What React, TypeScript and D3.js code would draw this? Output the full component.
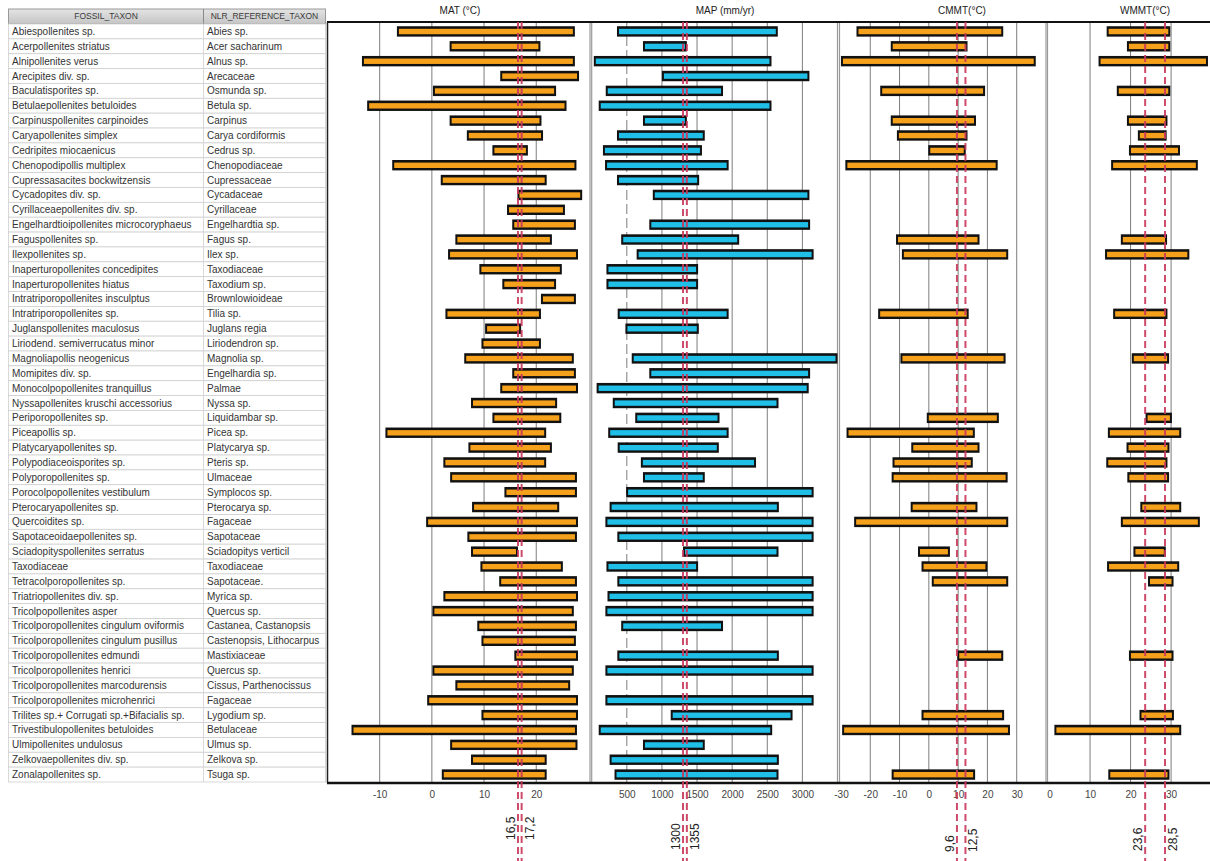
import * as d3 from "d3";
import React, { useEffect, useRef } from "react";

const fossilTaxa = [
  "Abiespollenites sp.", "Acerpollenites striatus", "Alnipollenites verus", "Arecipites div. sp.",
  "Baculatisporites sp.", "Betulaepollenites betuloides", "Carpinuspollenites carpinoides",
  "Caryapollenites simplex", "Cedripites miocaenicus", "Chenopodipollis multiplex",
  "Cupressasacites bockwitzensis", "Cycadopites div. sp.", "Cyrillaceaepollenites div. sp.",
  "Engelhardtioipollenites microcoryphaeus", "Faguspollenites sp.", "Ilexpollenites sp.",
  "Inaperturopollenites concedipites", "Inaperturopollenites hiatus", "Intratriporopollenites insculptus",
  "Intratriporopollenites sp.", "Juglanspollenites maculosus", "Liriodend. semiverrucatus minor",
  "Magnoliapollis neogenicus", "Momipites div. sp.", "Monocolpopollenites tranquillus",
  "Nyssapollenites kruschi accessorius", "Periporopollenites sp.", "Piceapollis sp.",
  "Platycaryapollenites sp.", "Polypodiaceoisporites sp.", "Polyporopollenites sp.",
  "Porocolpopollenites vestibulum", "Pterocaryapollenites sp.", "Quercoidites sp.",
  "Sapotaceoidaepollenites sp.", "Sciadopityspollenites serratus", "Taxodiaceae",
  "Tetracolporopollenites sp.", "Triatriopollenites div. sp.", "Tricolpopollenites asper",
  "Tricolporopollenites cingulum oviformis", "Tricolporopollenites cingulum pusillus",
  "Tricolporopollenites edmundi", "Tricolporopollenites henrici", "Tricolporopollenites marcodurensis",
  "Tricolporopollenites microhenrici", "Trilites sp.+ Corrugati sp.+Bifacialis sp.",
  "Trivestibulopollenites betuloides", "Ulmipollenites undulosus", "Zelkovaepollenites div. sp.",
  "Zonalapollenites sp.",
];

const referenceTaxa = [
  "Abies sp.", "Acer sacharinum", "Alnus sp.", "Arecaceae", "Osmunda sp.", "Betula sp.", "Carpinus",
  "Carya cordiformis", "Cedrus sp.", "Chenopodiaceae", "Cupressaceae", "Cycadaceae", "Cyrillaceae",
  "Engelhardtia sp.", "Fagus sp.", "Ilex sp.", "Taxodiaceae", "Taxodium sp.", "Brownlowioideae",
  "Tilia sp.", "Juglans regia", "Liriodendron sp.", "Magnolia sp.", "Engelhardia sp.", "Palmae",
  "Nyssa sp.", "Liquidambar sp.", "Picea sp.", "Platycarya sp.", "Pteris sp.", "Ulmaceae",
  "Symplocos sp.", "Pterocarya sp.", "Fagaceae", "Sapotaceae", "Sciadopitys verticil", "Taxodiaceae",
  "Sapotaceae.", "Myrica sp.", "Quercus sp.", "Castanea, Castanopsis", "Castenopsis, Lithocarpus",
  "Mastixiaceae", "Quercus sp.", "Cissus, Parthenocissus", "Fagaceae", "Lygodium sp.", "Betulaceae",
  "Ulmus sp.", "Zelkova sp.", "Tsuga sp.",
];

// mean annual temperature range (°C)
const matMin = [
  -6.7, 3.4, -13.4, 13.1, 0.2, -12.4, 3.4, 6.7, 11.6, -7.6, 1.7, 16.4, 14.4, 15.4, 4.5, 3.1, 9.1,
  13.5, 20.9, 2.6, 10.2, 9.5, 6.2, 15.4, 13.1, 7.5, 11.6, -8.9, 7.0, 2.2, 3.5, 13.9, 7.7, -1.1, 6.8,
  7.5, 9.3, 12.9, 2.2, 0.1, 8.7, 9.5, 15.8, 0.1, 4.5, -0.9, 9.5, -15.4, 3.5, 7.5, 1.9,
];
const matMax = [
  27.4, 20.8, 27.4, 28.2, 23.8, 25.8, 21.0, 21.3, 18.4, 27.7, 22.0, 28.8, 25.5, 27.6, 23.0, 28.0, 24.9,
  23.8, 27.6, 20.9, 17.1, 20.9, 27.2, 27.6, 28.0, 24.0, 24.8, 21.9, 23.0, 21.9, 27.8, 27.8, 24.4, 28.0,
  27.8, 16.5, 25.1, 27.8, 28.0, 27.2, 27.8, 27.6, 28.0, 27.2, 26.5, 28.0, 28.0, 27.8, 27.9, 22.0, 22.0,
];

// mean annual precipitation range (mm/yr)
const mapMin = [
  360, 730, 30, 1000, 200, 100, 730, 360, 160, 190, 360, 870, null, 820, 420, 640, 210, 210, null,
  370, 480, null, 570, 820, 70, 300, 620, 235, 370, 700, 730, 490, 255, 195, 365, 1300, 210, 365,
  225, 195, 420, null, 365, 195, null, 195, 1125, 100, 730, 255, 325,
];
const mapMax = [
  2650, 1355, 2560, 3100, 1870, 2560, 1355, 1610, 1570, 1950, 1530, 3100, null, 3110, 2100, 3160,
  1515, 1515, null, 1950, 1525, null, 3500, 3110, 3090, 2660, 1820, 1950, 1810, 2340, 1610, 3160,
  2665, 3160, 3160, 2660, 1515, 3160, 3160, 3160, 1870, null, 2665, 3160, null, 3160, 2860, 2570,
  1610, 2665, 2660,
];

// coldest month mean temperature range (°C)
const cmmtMin = [
  -24.7, -13.0, -30.0, null, -16.6, null, -13.0, -10.9, -0.2, -28.5, null, null, null, null, -11.2,
  -9.2, null, null, null, -17.3, null, null, -9.7, null, null, null, -0.7, -28.1, -6.0, -12.4, -12.7,
  null, -6.2, -25.5, null, -3.7, -2.5, 1.0, null, null, null, null, 9.7, null, null, null, -2.5,
  -29.6, null, null, -12.7,
];
const cmmtMax = [
  25.4, 13.2, 36.5, null, 19.2, null, 16.1, 13.2, 12.6, 23.5, null, null, null, null, 17.3, 27.1,
  null, null, null, 13.6, null, null, 26.2, null, null, null, 23.9, 15.7, 17.3, 15.0, 26.9, null,
  16.6, 27.1, null, 7.2, 20.0, 27.1, null, null, null, null, 25.4, null, null, null, 25.7, 27.7,
  null, null, 15.8,
];

// warmest month mean temperature range (°C)
const wmmtMin = [
  14.1, 19.1, 12.1, null, 16.6, null, 19.1, 21.8, 19.6, 15.2, null, null, null, null, 17.6, 13.7,
  null, null, null, 15.7, null, null, 20.3, null, null, null, 23.7, 14.4, 19.0, 14.0, 19.2, null,
  22.4, 17.6, null, 20.7, 14.2, 24.3, null, null, null, null, 19.6, null, null, null, 22.2, 1.2,
  null, null, 14.5,
];
const wmmtMax = [
  29.8, 29.8, 39.1, null, 29.8, null, 29.1, 28.9, 32.2, 36.6, null, null, null, null, 29.0, 34.5,
  null, null, null, 29.1, null, null, 29.5, null, null, null, 30.2, 32.5, 29.6, 29.1, 29.5, null,
  32.5, 37.1, null, 28.7, 32.0, 30.6, null, null, null, null, 30.6, null, null, null, 30.7, 32.5,
  null, null, 29.6,
];

const matTicks = [-10, 0, 10, 20];
const mapTicks = [500, 1000, 1500, 2000, 2500, 3000];
const cmmtTicks = [-30, -20, -10, 0, 10, 20, 30];
const wmmtTicks = [0, 10, 20, 30];

const matRefs = [16.5, 17.2];
const mapRefs = [1300, 1355];
const cmmtRefs = [9.6, 12.5];
const wmmtRefs = [23.6, 28.5];

const matRefLabels = ["16,5", "17,2"];
const mapRefLabels = ["1300", "1355"];
const cmmtRefLabels = ["9,6", "12,5"];
const wmmtRefLabels = ["23,6", "28,5"];

const WIDTH = 1210;
const HEIGHT = 861;
const TOP = 22;
const BOTTOM = 783;
const ORANGE = "#F5A11C";
const CYAN = "#1FBFE8";
const REF = "#C9385C";
const FONT = "'Liberation Sans', Arial, sans-serif";

export default function App() {
  const ref = useRef<SVGSVGElement | null>(null);

  useEffect(() => {
    const svg = d3.select(ref.current);
    svg.selectAll("*").remove();
    svg.attr("width", WIDTH).attr("height", HEIGHT).attr("font-family", FONT);
    svg.append("rect").attr("width", WIDTH).attr("height", HEIGHT).attr("fill", "#fff");

    const rows = d3.range(fossilTaxa.length);
    const y = d3.scaleBand<number>().domain(rows).range([24, 782]);
    const bw = y.bandwidth();

    // ---- table ----
    const grad = svg.append("defs").append("linearGradient")
      .attr("id", "hdr").attr("x1", 0).attr("x2", 0).attr("y1", 0).attr("y2", 1);
    grad.append("stop").attr("offset", "0%").attr("stop-color", "#e4e4e4");
    grad.append("stop").attr("offset", "100%").attr("stop-color", "#c4c4c4");

    const table = svg.append("g");
    const colX = [8.5, 203.5, 325.5];
    table.append("rect").attr("x", colX[0]).attr("y", 9).attr("width", colX[2] - colX[0])
      .attr("height", 15).attr("fill", "url(#hdr)").attr("stroke", "#9a9a9a");
    table.append("line").attr("x1", colX[1]).attr("x2", colX[1]).attr("y1", 9).attr("y2", 24)
      .attr("stroke", "#8a8a8a");
    [["FOSSIL_TAXON", (colX[0] + colX[1]) / 2], ["NLR_REFERENCE_TAXON", (colX[1] + colX[2]) / 2]]
      .forEach(([t, cx]) => {
        table.append("text").attr("x", cx as number).attr("y", 16.5).attr("dy", "0.35em")
          .attr("text-anchor", "middle").attr("font-size", 8.5).attr("fill", "#3a3a3a").text(t as string);
      });

    const row = table.selectAll("g.row").data(rows).enter().append("g").attr("class", "row");
    row.append("rect").attr("x", colX[0]).attr("y", (i) => y(i)!).attr("width", colX[2] - colX[0])
      .attr("height", bw).attr("fill", "#fff").attr("stroke", "#cfcfcf").attr("stroke-width", 0.8);
    row.append("line").attr("x1", colX[1]).attr("x2", colX[1]).attr("y1", (i) => y(i)!)
      .attr("y2", (i) => y(i)! + bw).attr("stroke", "#cfcfcf").attr("stroke-width", 0.8);
    row.append("text").attr("x", 12).attr("y", (i) => y(i)! + bw / 2).attr("dy", "0.35em")
      .attr("font-size", 10).attr("fill", "#333").text((i) => fossilTaxa[i]);
    row.append("text").attr("x", 207).attr("y", (i) => y(i)! + bw / 2).attr("dy", "0.35em")
      .attr("font-size", 10).attr("fill", "#333").text((i) => referenceTaxa[i]);

    // ---- panels ----
    const panels = [
      { title: "MAT (\u00b0C)", titleX: 460, domain: [-20, 30.3], range: [327.5, 590], lo: matMin, hi: matMax,
        fill: ORANGE, ticks: matTicks, grid: matTicks, dashed: [] as number[], refs: matRefs, refLabels: matRefLabels, labelBottom: 840 },
      { title: "MAP (mm/yr)", titleX: 725, domain: [0, 3500], range: [591.7, 837.5], lo: mapMin, hi: mapMax,
        fill: CYAN, ticks: mapTicks, grid: mapTicks, dashed: [500], refs: mapRefs, refLabels: mapRefLabels, labelBottom: 850 },
      { title: "CMMT(\u00b0C)", titleX: 962, domain: [-30.5, 40], range: [839.5, 1046], lo: cmmtMin, hi: cmmtMax,
        fill: ORANGE, ticks: cmmtTicks, grid: [-20, -10, 0, 10, 20, 30], dashed: [], refs: cmmtRefs, refLabels: cmmtRefLabels, labelBottom: 852 },
      { title: "WMMT(\u00b0C)", titleX: 1145, domain: [-0.5, 39.6], range: [1047.5, 1210], lo: wmmtMin, hi: wmmtMax,
        fill: ORANGE, ticks: wmmtTicks, grid: [10, 20, 30], dashed: [], refs: wmmtRefs, refLabels: wmmtRefLabels, labelBottom: 851 },
    ];

    const refLayer: { x: number; label: string; side: number; bottom: number }[] = [];

    panels.forEach((p, pi) => {
      const x = d3.scaleLinear().domain(p.domain).range(p.range);
      const g = svg.append("g");

      // borders
      p.range.forEach((rx, k) => {
        if (pi === 3 && k === 1) return;
        g.append("line").attr("x1", rx).attr("x2", rx).attr("y1", TOP).attr("y2", BOTTOM)
          .attr("stroke", pi === 0 && k === 0 ? "#222" : "#9a9a9a")
          .attr("stroke-width", pi === 0 && k === 0 ? 1.5 : 1.2);
      });

      // grid
      g.selectAll("line.grid").data(p.grid).enter().append("line").attr("class", "grid")
        .attr("x1", (d) => x(d)).attr("x2", (d) => x(d)).attr("y1", TOP).attr("y2", BOTTOM)
        .attr("stroke", "#7d7d7d").attr("stroke-width", 1)
        .attr("stroke-dasharray", (d) => (p.dashed.includes(d) ? "10,4" : null));

      // bars
      const present = rows.filter((i) => p.lo[i] != null && p.hi[i] != null);
      const bar = g.selectAll("g.bar").data(present).enter().append("g").attr("class", "bar");
      bar.append("rect").attr("x", (i) => x(p.lo[i] as number))
        .attr("y", (i) => y(i)! + bw / 2 - 5.2)
        .attr("width", (i) => x(p.hi[i] as number) - x(p.lo[i] as number)).attr("height", 10.4)
        .attr("fill", "#111");
      bar.append("rect").attr("x", (i) => x(p.lo[i] as number) + 2)
        .attr("y", (i) => y(i)! + bw / 2 - 2.6)
        .attr("width", (i) => Math.max(0, x(p.hi[i] as number) - x(p.lo[i] as number) - 4)).attr("height", 5.4)
        .attr("fill", p.fill);

      // axis labels
      const axis = g.append("g").attr("transform", `translate(0,${BOTTOM})`)
        .call(d3.axisBottom(x).tickValues(p.ticks).tickSize(0).tickPadding(8).tickFormat((d) => String(d)));
      axis.select(".domain").remove();
      axis.selectAll("text").attr("font-size", 10).attr("fill", "#444").attr("font-family", FONT);

      // title
      g.append("text").attr("x", p.titleX).attr("y", 14).attr("text-anchor", "middle")
        .attr("font-size", 10).attr("fill", "#222").text(p.title);

      p.refs.forEach((r, k) => refLayer.push({ x: x(r), label: p.refLabels[k], side: k, bottom: p.labelBottom }));
    });

    // axis lines
    svg.append("line").attr("x1", 327).attr("x2", WIDTH).attr("y1", TOP).attr("y2", TOP)
      .attr("stroke", "#111").attr("stroke-width", 2);
    svg.append("line").attr("x1", 327).attr("x2", WIDTH).attr("y1", BOTTOM).attr("y2", BOTTOM)
      .attr("stroke", "#111").attr("stroke-width", 2.5);

    // reference lines
    const refs = svg.append("g");
    refs.selectAll("line").data(refLayer).enter().append("line")
      .attr("x1", (d) => d.x).attr("x2", (d) => d.x).attr("y1", TOP).attr("y2", HEIGHT)
      .attr("stroke", REF).attr("stroke-width", 2).attr("stroke-dasharray", "7,4").attr("opacity", 0.9);
    refs.selectAll("text").data(refLayer).enter().append("text")
      .attr("transform", (d) => `translate(${d.side === 0 ? d.x - 3 : d.x + 12},${d.bottom}) rotate(-90)`)
      .attr("text-anchor", "start").attr("font-size", 12).attr("fill", "#222").text((d) => d.label);
  }, []);

  return (
    <div style={{ position: "absolute", left: 0, top: 0 }}>
      <svg ref={ref} style={{ display: "block" }} />
    </div>
  );
}
